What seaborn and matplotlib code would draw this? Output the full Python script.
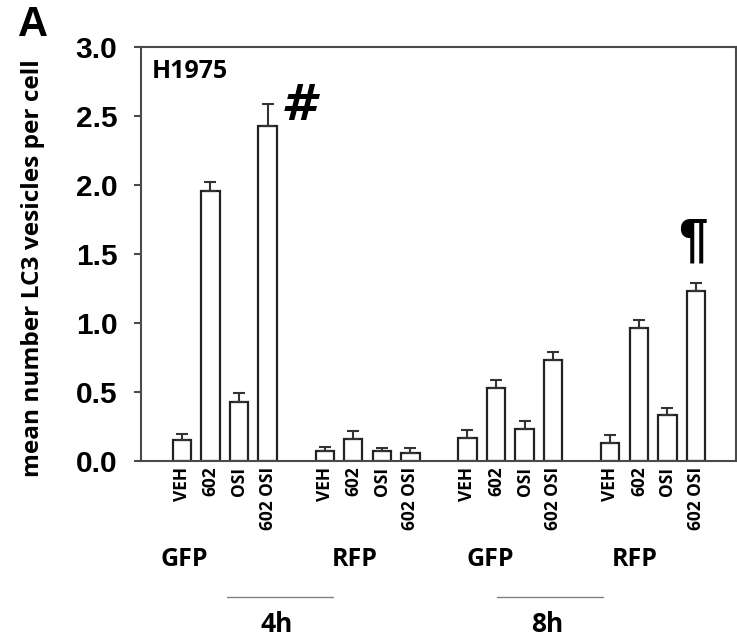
import matplotlib
matplotlib.use("Agg")
import matplotlib.pyplot as plt
import seaborn as sns
import numpy as np
import pandas as pd

# ---- data ----
treatments = ["VEH", "602", "OSI", "602 OSI"]
groups = ["GFP 4h", "RFP 4h", "GFP 8h", "RFP 8h"]
group_labels = ["GFP", "RFP", "GFP", "RFP"]
time_labels = ["4h", "8h"]
gfp_4h = [0.15, 1.96, 0.43, 2.43]
gfp_4h_err = [0.045, 0.06, 0.06, 0.16]
rfp_4h = [0.07, 0.16, 0.07, 0.055]
rfp_4h_err = [0.035, 0.06, 0.025, 0.04]
gfp_8h = [0.17, 0.53, 0.23, 0.73]
gfp_8h_err = [0.055, 0.06, 0.06, 0.06]
rfp_8h = [0.13, 0.965, 0.33, 1.23]
rfp_8h_err = [0.055, 0.06, 0.055, 0.06]
yticks = [0.0, 0.5, 1.0, 1.5, 2.0, 2.5, 3.0]

means = [gfp_4h, rfp_4h, gfp_8h, rfp_8h]
errs = [gfp_4h_err, rfp_4h_err, gfp_8h_err, rfp_8h_err]

rows = []
for gi, g in enumerate(groups):
    for ti, t in enumerate(treatments):
        rows.append({"group": g, "treatment": t, "pos": gi * 5 + ti,
                     "mean": means[gi][ti], "err": errs[gi][ti]})
df = pd.DataFrame(rows)

sns.set_theme(style="white")
plt.rcParams["font.family"] = ["Open Sans", "DejaVu Sans"]
plt.rcParams["text.color"] = "black"
plt.rcParams["xtick.color"] = "black"
plt.rcParams["ytick.color"] = "black"

fig = plt.figure(figsize=(7.37, 6.39), dpi=100)
ax = fig.add_axes([141 / 737, 178 / 639, 595 / 737, 414 / 639])

spine_col = "#4a4a4a"
sns.barplot(data=df, x="pos", y="mean", native_scale=True, width=0.64,
            color="white", saturation=1, edgecolor="#222222", linewidth=1.6,
            errorbar=None, ax=ax)
ax.errorbar(df["pos"], df["mean"], yerr=[np.zeros(len(df)), df["err"]],
            fmt="none", ecolor="#333333", elinewidth=1.5, capsize=4.3,
            capthick=1.5, zorder=3)

ax.set_xlim(-1.43, 19.4)
ax.set_ylim(0, 3.0)
ax.set_yticks(yticks)
ax.set_yticklabels([f"{v:.1f}" for v in yticks], fontfamily="Liberation Sans",
                   fontweight="bold", fontsize=21.5)
ax.set_xticks(df["pos"])
ax.set_xticklabels(df["treatment"], rotation=90, fontweight="bold", fontsize=12.5,
                   va="top")
ax.tick_params(axis="x", length=0, pad=4)
ax.tick_params(axis="y", length=5, width=1.5, color=spine_col, pad=12, left=True)
for s in ax.spines.values():
    s.set_color(spine_col)
    s.set_linewidth(1.5)
    s.set_visible(True)
ax.set_xlabel("")
ax.set_ylabel("")

fig.text(33 / 737, 1 - 268 / 639, "mean number LC3 vesicles per cell", rotation=90,
         ha="center", va="center", fontweight="bold", fontsize=17.6)
fig.text(33 / 737, 1 - 25 / 639, "A", ha="center", va="center",
         fontfamily="Liberation Sans", fontweight="bold", fontsize=30)

ax.text(0.0185, 0.94, "H1975", transform=ax.transAxes, ha="left", va="center",
        fontweight="bold", fontsize=18)
ax.text(4.06, 2.57, "#", ha="center", va="center", fontfamily="DejaVu Sans",
        fontweight="bold", style="oblique", fontsize=36)
ax.text(17.9, 1.594, "\u00b6", ha="center", va="center", fontfamily="Liberation Sans",
        fontweight="bold", fontsize=38)

trans = ax.get_xaxis_transform()
for x, lab in zip([0.1, 6.05, 10.8, 15.85], group_labels):
    ax.text(x, -0.237, lab, transform=trans, ha="center", va="center",
            fontweight="bold", fontsize=18, clip_on=False)
for (x0, x1), lab in zip([(1.58, 5.29), (11.02, 14.74)], time_labels):
    ax.plot([x0, x1], [-0.3285, -0.3285], transform=trans, color="#808080",
            lw=1.0, clip_on=False)
    ax.text((x0 + x1) / 2 - 0.1, -0.396, lab, transform=trans, ha="center",
            va="center", fontweight="bold", fontsize=19, clip_on=False)

fig.savefig("out.png", dpi=100)
